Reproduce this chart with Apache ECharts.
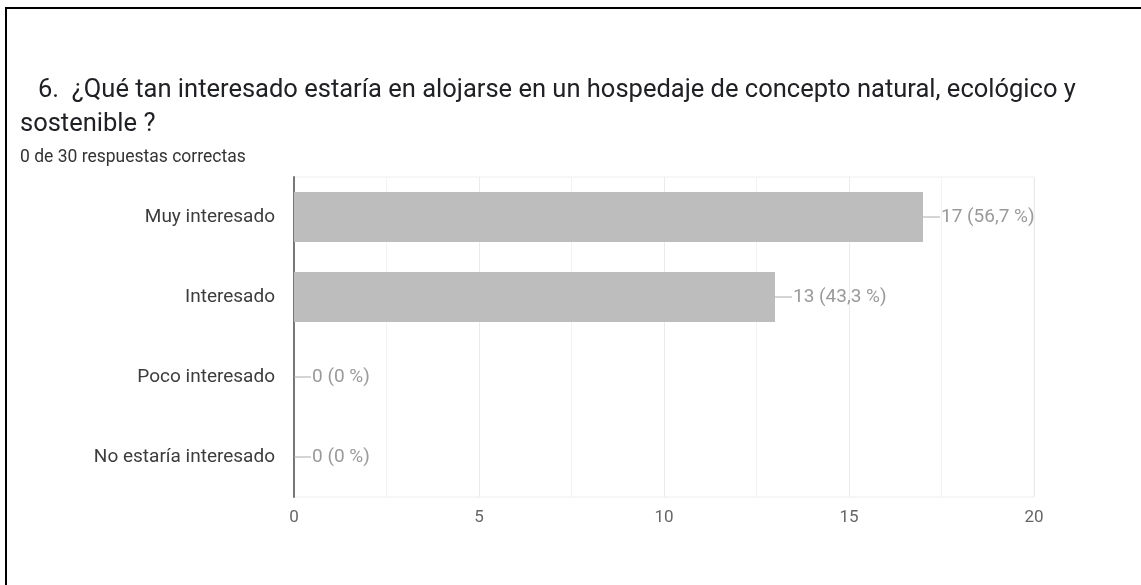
<!DOCTYPE html>
<html>
<head>
<meta charset="utf-8">
<script src="https://cdn.jsdelivr.net/npm/echarts@6/dist/echarts.min.js"></script>
<style>
  html, body { margin: 0; padding: 0; background: #fff; }
  #frame { position: absolute; left: 5px; top: 7px; width: 1200px; height: 700px;
           border-left: 2px solid #000; border-top: 2px solid #000; }
  #chart { position: absolute; left: 0; top: 0; width: 1141px; height: 585px; }
</style>
</head>
<body>
<div id="frame"></div>
<div id="chart"></div>
<script>
const categories = ['Muy interesado', 'Interesado', 'Poco interesado', 'No estaría interesado'];
const counts = [17, 13, 0, 0];
const percents = ['56,7', '43,3', '0', '0'];
const xTicks = [0, 5, 10, 15, 20];

const titleLine1 = '6.  ¿Qué tan interesado estaría en alojarse en un hospedaje de concepto natural, ecológico y';
const titleLine2 = 'sostenible ?';
const subtitle = '0 de 30 respuestas correctas';

const chart = echarts.init(document.getElementById('chart'), null, { renderer: 'canvas' });
chart.setOption({
  backgroundColor: 'transparent',
  animation: false,
  title: [
    { text: titleLine1, left: 38, top: 78, padding: 0,
      textStyle: { fontFamily: 'Roboto', fontSize: 25.5, fontWeight: 'normal', color: '#202124' } },
    { text: titleLine2, left: 20, top: 112, padding: 0,
      textStyle: { fontFamily: 'Roboto', fontSize: 25.5, fontWeight: 'normal', color: '#202124' } },
    { text: subtitle, left: 20, top: 149, padding: 0,
      textStyle: { fontFamily: 'Roboto', fontSize: 17.5, fontWeight: 'normal', color: '#333' } }
  ],
  grid: { left: 294, right: 107, top: 177, bottom: 88, show: true, borderColor: '#eeeeee', borderWidth: 1 },
  xAxis: {
    type: 'value', min: xTicks[0], max: xTicks[xTicks.length - 1], interval: 5,
    axisLine: { show: false },
    axisTick: { show: false },
    axisLabel: { color: '#666', fontFamily: 'Roboto', fontSize: 17, margin: 12 },
    splitLine: { show: true, lineStyle: { color: '#ebebeb', width: 1 } },
    minorTick: { show: false, splitNumber: 2 },
    minorSplitLine: { show: true, lineStyle: { color: '#f3f3f3', width: 1 } }
  },
  yAxis: {
    type: 'category', inverse: true, data: categories,
    axisLine: { show: true, lineStyle: { color: '#777', width: 2 } },
    axisTick: { show: false },
    axisLabel: { color: '#3c3c3c', fontFamily: 'Roboto', fontSize: 19, margin: 19 }
  },
  series: [{
    type: 'bar',
    data: counts,
    barCategoryGap: '37.5%',
    itemStyle: { color: '#bdbdbd' },
    label: {
      show: true, position: 'right', distance: 0,
      fontFamily: 'Roboto', fontSize: 19, color: '#9a9a9a',
      formatter: p => '{l|}{t|' + counts[p.dataIndex] + ' (' + percents[p.dataIndex] + ' %)}',
      rich: {
        l: { width: 17, height: 1, backgroundColor: '#aaaaaa', verticalAlign: 'middle' },
        t: { fontFamily: 'Roboto', fontSize: 19, color: '#9a9a9a', padding: [0, 0, 0, 1] }
      }
    }
  }]
});
</script>
</body>
</html>
